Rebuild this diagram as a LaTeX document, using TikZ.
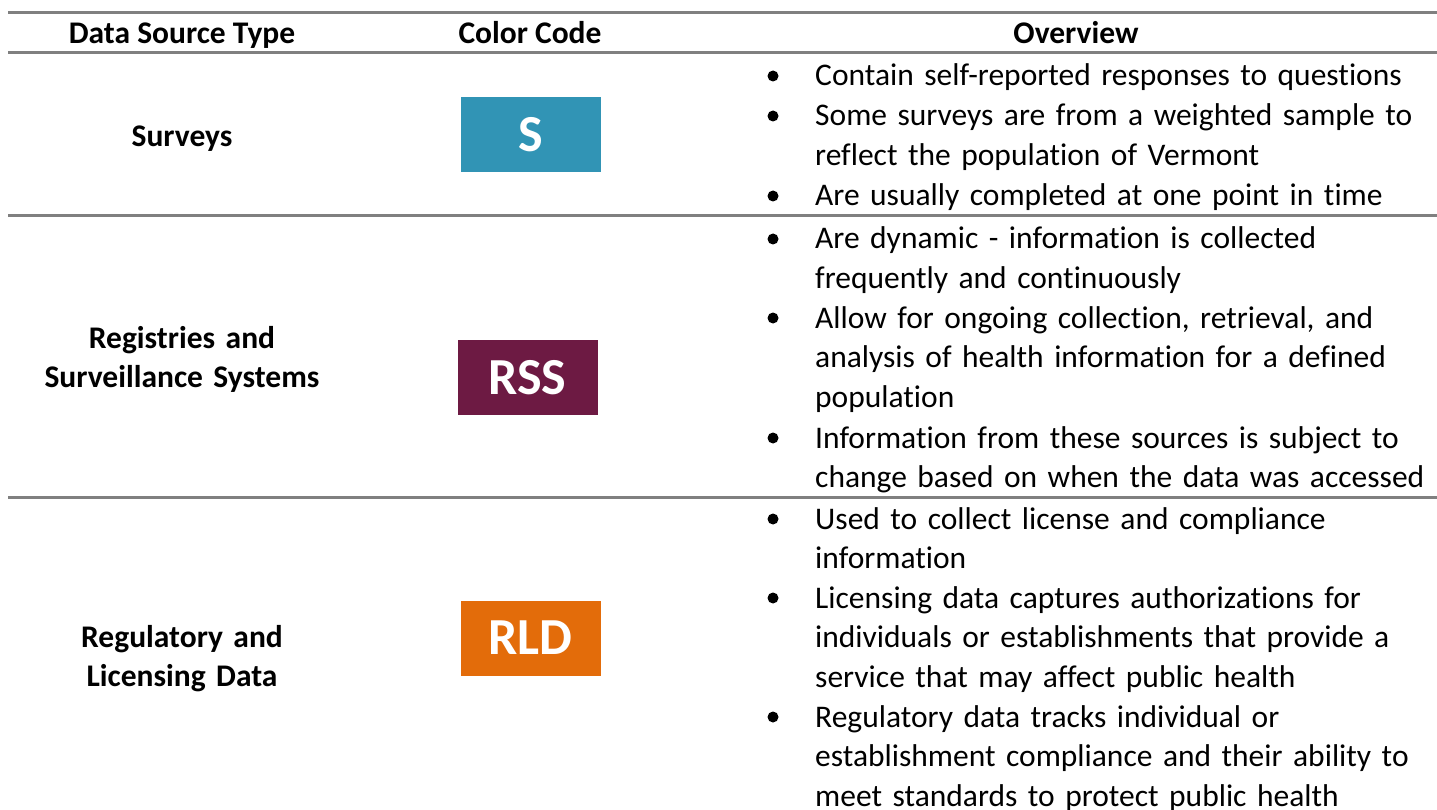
\documentclass[tikz,border=0pt]{standalone}
\usepackage{fontspec}
\setmainfont{Carlito}[RawFeature=-liga]
\usetikzlibrary{positioning}
\definecolor{survteal}{HTML}{3194B5}
\definecolor{rssmaroon}{HTML}{6D1A43}
\definecolor{rldorange}{HTML}{E36C0A}
\definecolor{rulegray}{HTML}{808080}

\begin{document}
\begin{tikzpicture}[
    x=1pt, y=-1pt,
    head/.style={anchor=base, inner sep=0pt, font=\fontsize{31.5}{38}\selectfont\bfseries},
    kind/.style={anchor=base, inner sep=0pt, text width=340pt, align=center, font=\fontsize{31.5}{39.4}\selectfont\bfseries},
    code/.style={fill=#1, text=white, minimum width=140pt, minimum height=75pt, inner sep=0pt, font=\fontsize{52}{52}\selectfont\bfseries},
    point/.style={anchor=base west, inner sep=0pt, text width=640pt, align=left, font=\fontsize{31.5}{39.7}\selectfont},
    dot/.style={circle, fill, minimum size=11pt, inner sep=0pt},
    rule/.style={draw=rulegray, line width=3pt}
]
\useasboundingbox (0,0) rectangle (1437,810);

% rules
\draw[rule] (8,13) -- (1437,13);
\draw[rule] (8,53) -- (1437,53);
\draw[rule] (8,216) -- (1437,216);
\draw[rule] (8,497) -- (1437,497);

% header
\node[head] (hsrc) at (182,44) {Data Source Type};
\node[head] (hcol) at (530,44) {Color Code};
\node[head] (hov) at (1076,44) {Overview};

% source types
\node[kind] (ksurv) at (182,147) {Surveys};
\node[kind] (kreg) at (182,348) {Registries and\\Surveillance Systems};
\node[kind] (klic) at (182,647) {Regulatory and\\Licensing Data};

% colour codes
\node[code=survteal] (cs) at (531,134.5) {S};
\node[code=rssmaroon] (crss) at (527.5,377.5) {RSS};
\node[code=rldorange] (crld) at (530.5,638) {RLD};

% overview bullets
\foreach \n/\y/\t in {
    1/76/{Contain self-reported responses to questions},
    2/116/{Some surveys are from a weighted sample to\\reflect the population of Vermont},
    3/196/{Are usually completed at one point in time},
    4/239/{Are dynamic - information is collected\\frequently and continuously},
    5/318/{Allow for ongoing collection, retrieval, and\\analysis of health information for a defined\\population},
    6/438/{Information from these sources is subject to\\change based on when the data was accessed},
    7/519/{Used to collect license and compliance\\information},
    8/598/{Licensing data captures authorizations for\\individuals or establishments that provide a\\service that may affect public health},
    9/717/{Regulatory data tracks individual or\\establishment compliance and their ability to\\meet standards to protect public health}}
{
    \node[dot] (d\n) at (773,\y) {};
    \node[point] (p\n) at (815,\y+10) {\t};
}
\end{tikzpicture}
\end{document}
